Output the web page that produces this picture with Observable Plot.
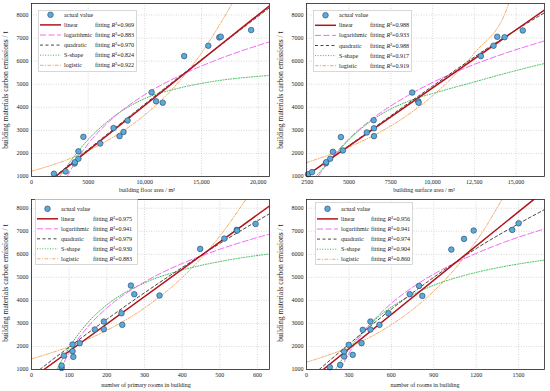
<!DOCTYPE html>
<html>
<head>
<meta charset="utf-8">
<script src="https://cdn.jsdelivr.net/npm/d3@7"></script>
<script src="https://cdn.jsdelivr.net/npm/@observablehq/plot@0.6"></script>
<style>
  html, body { margin: 0; padding: 0; background: #fff; }
  #fig { position: relative; width: 550px; height: 391px; overflow: hidden; background: #fff;
         font-family: 'Liberation Serif', 'Times New Roman', serif; color: #222; }
  .panel { position: absolute; }
  .ttl { position: absolute; white-space: nowrap; font-size: 6px; transform: translate(-50%, -50%); }
  .ytl { position: absolute; white-space: nowrap; font-size: 7.6px; transform: translate(-50%, -50%) rotate(-90deg); }
  .leg { position: absolute; overflow: visible; }
</style>
</head>
<body>
<div id="fig"></div>
<script>
// ---------- shared ----------
const modelNames = ["linear", "logarithmic", "quadratic", "S-shape", "logistic"];
const yTicks = [1000, 2000, 3000, 4000, 5000, 6000, 7000, 8000];
const yTickLabels = ["1000", "2000", "3000", "4000", "5000", "6000", "7000", "8000"];
const yLabel = "building materials carbon emissions / t";

// ---------- panel 1: building floor area ----------
const floorTicks = [0, 5000, 10000, 15000, 20000];
const floorTickLabels = ["0", "5000", "10,000", "15,000", "20,000"];
const floorArea = [1980, 3010, 3800, 3830, 4140, 4140, 4580, 6060, 7240, 7770, 8120, 8480, 10600, 10990, 11580, 13470, 15600, 16570, 16700, 19380];
const floorEmission = [1120, 1220, 1560, 1620, 1770, 2090, 2720, 2430, 3100, 2750, 2930, 3430, 4650, 4260, 4200, 6220, 6670, 7030, 7060, 7350];
const floorLinear = [[2130, 1000], [21000, 8400]];
const floorLog = [[3150, 1000], [4000, 1730], [5000, 2420], [7000, 3450], [10000, 4550], [13000, 5350], [16000, 5990], [21000, 6840]];
const floorQuad = [[2050, 1000], [7000, 2960], [12000, 4920], [17000, 6820], [21000, 8320]];
const floorS = [[2500, 1000], [3500, 1700], [5000, 2600], [7000, 3500], [10000, 4380], [13000, 4830], [16000, 5120], [21000, 5380]];
const floorLogistic = [[0, 1230], [3000, 1700], [6000, 2370], [9000, 3290], [12000, 4570], [15000, 6350], [17700, 8500]];
const floorR2 = ["0.969", "0.883", "0.970", "0.824", "0.922"];

// ---------- panel 2: building surface area ----------
const surfTicks = [2500, 5000, 7500, 10000, 12500, 15000];
const surfTickLabels = ["2500", "5000", "7500", "10,000", "12,500", "15,000"];
const surfaceArea = [2540, 2780, 3610, 3630, 3870, 4030, 4510, 4630, 6060, 6470, 6490, 6490, 8780, 9140, 9160, 12890, 13650, 13870, 14310, 15400];
const surfaceEmission = [1100, 1190, 1570, 1620, 1770, 2070, 2710, 2130, 2910, 3440, 3090, 2750, 4640, 4260, 4200, 6220, 6670, 7060, 7040, 7330];
const surfLinear = [[2450, 1040], [16700, 8220]];
const surfLog = [[3140, 1000], [4000, 1850], [5000, 2640], [6500, 3560], [8500, 4500], [10500, 5250], [12500, 5860], [14500, 6380], [16700, 6880]];
const surfQuad = [[2400, 1000], [6000, 2860], [10000, 4920], [14000, 6900], [16700, 8100]];
const surfS = [[3000, 1000], [4000, 1800], [5000, 2600], [6500, 3500], [8500, 4250], [10500, 4700], [12500, 5100], [14500, 5500], [16700, 5900]];
const surfLogistic = [[2450, 1600], [4500, 2130], [6500, 2790], [8500, 3660], [10500, 4820], [12500, 6350], [14500, 8380], [14550, 8500]];
const surfR2 = ["0.988", "0.933", "0.988", "0.917", "0.919"];

// ---------- panel 3: number of primary rooms ----------
const primTicks = [0, 100, 200, 300, 400, 500, 600];
const primTickLabels = ["0", "100", "200", "300", "400", "500", "600"];
const primaryRooms = [80, 80, 86, 109, 109, 111, 128, 168, 192, 192, 241, 239, 264, 273, 340, 448, 512, 545, 546, 595];
const primaryEmission = [1070, 1170, 1600, 2085, 1795, 1550, 2143, 2736, 3083, 2750, 2940, 3440, 4646, 4268, 4212, 6236, 6684, 7060, 7030, 7320];
const primLinear = [[33, 1000], [632, 8100]];
const primLog = [[77, 1000], [100, 1730], [150, 2860], [200, 3670], [300, 4800], [400, 5600], [500, 6220], [632, 6880]];
const primQuad = [[22, 1000], [100, 1975], [200, 3180], [300, 4330], [400, 5425], [500, 6470], [632, 7760]];
const primS = [[67, 1000], [80, 1390], [100, 1950], [150, 3045], [200, 3806], [300, 4760], [400, 5318], [500, 5687], [632, 6019]];
const primLogistic = [[0, 1463], [100, 1990], [200, 2700], [300, 3670], [400, 4990], [500, 6790], [569, 8380]];
const primR2 = ["0.975", "0.941", "0.979", "0.930", "0.883"];

// ---------- panel 4: number of rooms ----------
const roomTicks = [0, 300, 600, 900, 1200, 1500];
const roomTickLabels = ["0", "300", "600", "900", "1200", "1500"];
const allRooms = [165, 238, 266, 266, 299, 327, 389, 398, 452, 452, 516, 579, 730, 796, 819, 1024, 1114, 1182, 1455, 1500];
const allEmission = [1100, 1200, 1564, 1781, 2070, 1636, 2143, 2721, 2736, 3083, 2938, 3444, 4269, 4630, 4196, 6207, 6670, 7031, 7060, 7349];
const roomLinear = [[118, 1000], [1606, 8376]];
const roomLog = [[240, 1000], [300, 1700], [400, 2600], [600, 3870], [800, 4770], [1000, 5470], [1200, 6040], [1400, 6530], [1683, 7104]];
const roomQuad = [[90, 1000], [300, 2100], [600, 3620], [900, 5000], [1200, 6250], [1500, 7330], [1683, 7942]];
const roomS = [[205, 1000], [250, 1430], [300, 1880], [400, 2645], [500, 3240], [700, 4090], [900, 4656], [1200, 5215], [1450, 5530], [1683, 5750]];
const roomLogistic = [[0, 1318], [300, 1970], [600, 2944], [900, 4400], [1100, 5745], [1250, 7025], [1382, 8380]];
const roomR2 = ["0.956", "0.941", "0.974", "0.904", "0.860"];

// ---------- styles ----------
const lineStyles = [
  {stroke: "#b3121b", strokeWidth: 1.5, strokeDasharray: null},          // linear
  {stroke: "#f66af6", strokeWidth: 1.0, strokeDasharray: "6,2.5"},        // logarithmic
  {stroke: "#333333", strokeWidth: 0.9, strokeDasharray: "3,2.5"},        // quadratic
  {stroke: "#3dbb55", strokeWidth: 1.0, strokeDasharray: "1,1.6"},        // S-shape
  {stroke: "#f3a45c", strokeWidth: 0.9, strokeDasharray: "3.5,1.5,1,1.5"} // logistic
];
const dotFill = "#5aaade", dotStroke = "#2a4258";

const fig = document.getElementById("fig");

function makePanel(cfg) {
  const pts = cfg.xs.map((x, i) => ({x, y: cfg.ys[i]}));
  const curves = cfg.curves; // order: linear, log, quad, S, logistic
  const lineMark = (data, st) => Plot.line(data, {
    x: d => d[0], y: d => d[1], curve: "monotone-x", clip: true,
    stroke: st.stroke, strokeWidth: st.strokeWidth,
    strokeDasharray: st.strokeDasharray || undefined
  });
  const chart = Plot.plot({
    width: 275, height: cfg.h,
    marginLeft: 31, marginRight: 6, marginTop: cfg.mt, marginBottom: cfg.mb,
    style: {fontFamily: "'Liberation Serif', 'Times New Roman', serif", fontSize: "6px", color: "#222", background: "transparent"},
    x: {domain: cfg.xDomain, ticks: cfg.xTicks, tickFormat: d => cfg.xTickLabels[cfg.xTicks.indexOf(d)], tickSize: 0, tickPadding: 3, label: null},
    y: {domain: cfg.yDomain, ticks: yTicks, tickFormat: d => yTickLabels[yTicks.indexOf(d)], tickSize: 0, tickPadding: 3, label: null},
    marks: [
      Plot.ruleX(cfg.xTicks, {stroke: "#bdbdbd", strokeWidth: 0.6, strokeDasharray: "1,1.5"}),
      Plot.ruleY(yTicks, {stroke: "#bdbdbd", strokeWidth: 0.6, strokeDasharray: "1,1.5"}),
      lineMark(curves[4], lineStyles[4]),
      lineMark(curves[3], lineStyles[3]),
      lineMark(curves[1], lineStyles[1]),
      lineMark(curves[2], lineStyles[2]),
      lineMark(curves[0], lineStyles[0]),
      Plot.dot(pts, {x: "x", y: "y", r: 2.8, fill: dotFill, stroke: dotStroke, strokeWidth: 0.6}),
      Plot.frame({stroke: "#222", strokeWidth: 0.8})
    ]
  });
  const wrap = document.createElement("div");
  wrap.className = "panel";
  wrap.style.left = cfg.left + "px";
  wrap.style.top = cfg.top + "px";
  wrap.appendChild(chart);
  fig.appendChild(wrap);

  // axis titles
  const xt = document.createElement("div");
  xt.className = "ttl";
  xt.style.left = (cfg.left + cfg.xTitleX) + "px";
  xt.style.top = (cfg.top + cfg.xTitleY) + "px";
  xt.innerHTML = cfg.xLabel;
  fig.appendChild(xt);
  const yt = document.createElement("div");
  yt.className = "ytl";
  yt.style.left = (cfg.left + 5) + "px";
  yt.style.top = (cfg.top + cfg.yTitleY) + "px";
  yt.textContent = yLabel;
  fig.appendChild(yt);

  // legend
  const lb = cfg.legend; // {x, y, w, h, row0, dy, fx}
  const svg = d3.create("svg").attr("class", "leg")
    .attr("width", lb.w + 1).attr("height", lb.h + 1)
    .style("left", (cfg.left + lb.x) + "px").style("top", (cfg.top + lb.y) + "px")
    .style("font-family", "'Liberation Serif', 'Times New Roman', serif").style("font-size", "6.1px");
  svg.append("rect").attr("x", 0.5).attr("y", 0.5).attr("width", lb.w).attr("height", lb.h)
    .attr("fill", "#fff").attr("stroke", "#c8c8c8").attr("stroke-width", 0.7);
  const rowY = i => lb.row0 + i * lb.dy;
  svg.append("circle").attr("cx", 12.5).attr("cy", rowY(0)).attr("r", 2.8)
    .attr("fill", dotFill).attr("stroke", dotStroke).attr("stroke-width", 0.6);
  svg.append("text").attr("x", 26).attr("y", rowY(0)).attr("dy", "0.33em").attr("fill", "#222").text("actual value");
  modelNames.forEach((name, i) => {
    const st = lineStyles[i];
    const y = rowY(i + 1);
    svg.append("line").attr("x1", 2).attr("x2", 23).attr("y1", y).attr("y2", y)
      .attr("stroke", st.stroke).attr("stroke-width", st.strokeWidth)
      .attr("stroke-dasharray", st.strokeDasharray);
    svg.append("text").attr("x", 26).attr("y", y).attr("dy", "0.33em").attr("fill", "#222").text(name);
    const t = svg.append("text").attr("x", lb.fx).attr("y", y).attr("dy", "0.33em").attr("fill", "#222");
    t.append("tspan").text("fitting ");
    t.append("tspan").attr("font-style", "italic").text("R");
    t.append("tspan").text("\u00b2=" + cfg.r2[i]);
  });
  fig.appendChild(svg.node());
}

makePanel({
  left: 0, top: 0, h: 195, mt: 3, mb: 19,
  xDomain: [0, 21000], yDomain: [1000, 8500],
  xTicks: floorTicks, xTickLabels: floorTickLabels,
  xs: floorArea, ys: floorEmission,
  curves: [floorLinear, floorLog, floorQuad, floorS, floorLogistic],
  r2: floorR2, xLabel: "building floor area / m\u00b2", xTitleX: 147, xTitleY: 190, yTitleY: 90,
  legend: {x: 37.5, y: 10, w: 98, h: 61, row0: 4.8, dy: 10.1, fx: 57}
});
makePanel({
  left: 275, top: 0, h: 195, mt: 3, mb: 19,
  xDomain: [2450, 16700], yDomain: [1000, 8500],
  xTicks: surfTicks, xTickLabels: surfTickLabels,
  xs: surfaceArea, ys: surfaceEmission,
  curves: [surfLinear, surfLog, surfQuad, surfS, surfLogistic],
  r2: surfR2, xLabel: "building surface area / m\u00b2", xTitleX: 149, xTitleY: 190, yTitleY: 90,
  legend: {x: 37.5, y: 9.5, w: 98, h: 61, row0: 5.2, dy: 10.1, fx: 57}
});
makePanel({
  left: 0, top: 195, h: 196, mt: 4, mb: 22,
  xDomain: [0, 632], yDomain: [1000, 8380],
  xTicks: primTicks, xTickLabels: primTickLabels,
  xs: primaryRooms, ys: primaryEmission,
  curves: [primLinear, primLog, primQuad, primS, primLogistic],
  r2: primR2, xLabel: "number of primary rooms in building", xTitleX: 146, xTitleY: 190, yTitleY: 88,
  legend: {x: 34.5, y: 3.5, w: 102, h: 65, row0: 9.8, dy: 10, fx: 58}
});
makePanel({
  left: 275, top: 195, h: 196, mt: 4, mb: 22,
  xDomain: [0, 1683], yDomain: [1000, 8380],
  xTicks: roomTicks, xTickLabels: roomTickLabels,
  xs: allRooms, ys: allEmission,
  curves: [roomLinear, roomLog, roomQuad, roomS, roomLogistic],
  r2: roomR2, xLabel: "number of rooms in building", xTitleX: 150, xTitleY: 190, yTitleY: 88,
  legend: {x: 39.5, y: 6.5, w: 97, h: 62, row0: 6.8, dy: 10.1, fx: 56}
});
</script>
</body>
</html>
